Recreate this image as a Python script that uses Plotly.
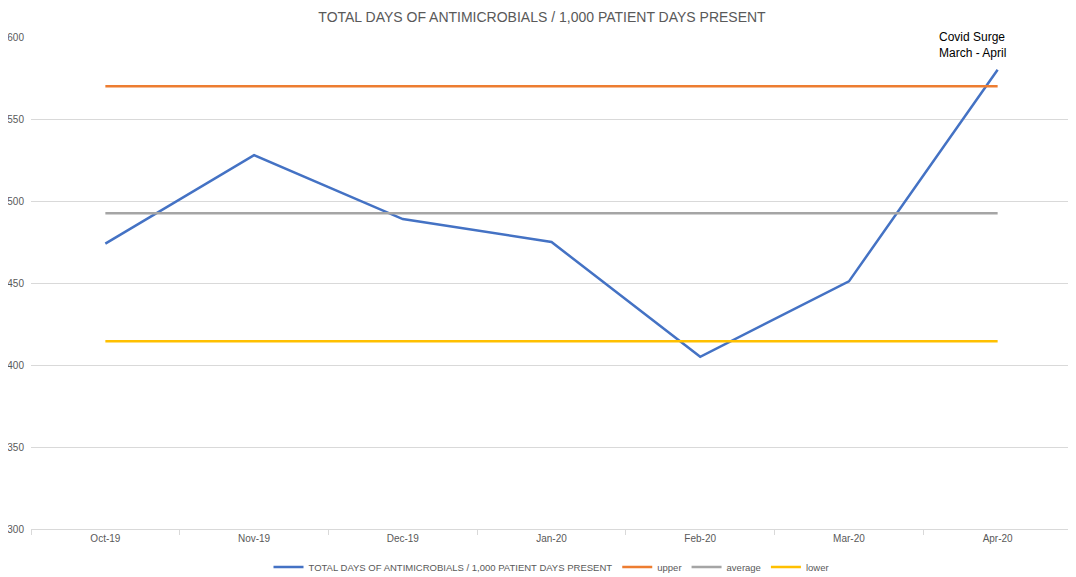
import plotly.graph_objects as go

months = ["Oct-19", "Nov-19", "Dec-19", "Jan-20", "Feb-20", "Mar-20", "Apr-20"]
total_days = [474, 528, 489, 475, 405, 451, 580]
upper = [570] * 7
average = [492.5] * 7
lower = [414.5] * 7
y_ticks = [300, 350, 400, 450, 500, 550, 600]

FONT = "Liberation Sans, Arial, sans-serif"

fig = go.Figure()
fig.add_trace(go.Scatter(x=months, y=total_days, mode="lines",
                         name="TOTAL DAYS OF ANTIMICROBIALS / 1,000 PATIENT DAYS PRESENT",
                         line=dict(color="#4472C4", width=2.5)))
fig.add_trace(go.Scatter(x=months, y=upper, mode="lines", name="upper",
                         line=dict(color="#ED7D31", width=2.5)))
fig.add_trace(go.Scatter(x=months, y=average, mode="lines", name="average",
                         line=dict(color="#A5A5A5", width=2.5)))
fig.add_trace(go.Scatter(x=months, y=lower, mode="lines", name="lower",
                         line=dict(color="#FFC000", width=2.5)))

fig.add_annotation(x="Apr-20", y=595, xref="x", yref="y", xshift=-25,
                   text="Covid Surge<br>March - April", showarrow=False,
                   align="left", font=dict(family=FONT, size=12, color="#000000"))

# page body has an 8px margin, so the figure is sized to fit the window
fig.update_layout(
    width=1068, height=569,
    margin=dict(l=23, r=4, t=29, b=48, autoexpand=False),
    paper_bgcolor="white", plot_bgcolor="white",
    title=dict(text="TOTAL DAYS OF ANTIMICROBIALS / 1,000 PATIENT DAYS PRESENT",
               x=0.5, xanchor="center", y=0.984, yanchor="middle",
               font=dict(family=FONT, size=14, color="#595959")),
    font=dict(family=FONT, size=10, color="#595959"),
    showlegend=True,
    legend=dict(orientation="h", x=0.5, xanchor="center", y=-0.077, yanchor="middle",
                font=dict(family=FONT, size=9.5, color="#595959"),
                itemwidth=30, tracegroupgap=0),
    xaxis=dict(type="category", range=[-0.5, 6.5], showgrid=False, automargin=False,
               showline=True, linecolor="#D9D9D9", linewidth=1,
               ticks="outside", tickson="boundaries", ticklen=5, tickcolor="#D9D9D9",
               tickfont=dict(family=FONT, size=10, color="#595959")),
    yaxis=dict(range=[300, 600], tickvals=y_ticks, showgrid=True, gridcolor="#D9D9D9",
               gridwidth=1, zeroline=False, showline=False, ticks="", automargin=False,
               ticklabelstandoff=6,
               tickfont=dict(family=FONT, size=10, color="#595959")),
)

fig.write_html("out.html")
